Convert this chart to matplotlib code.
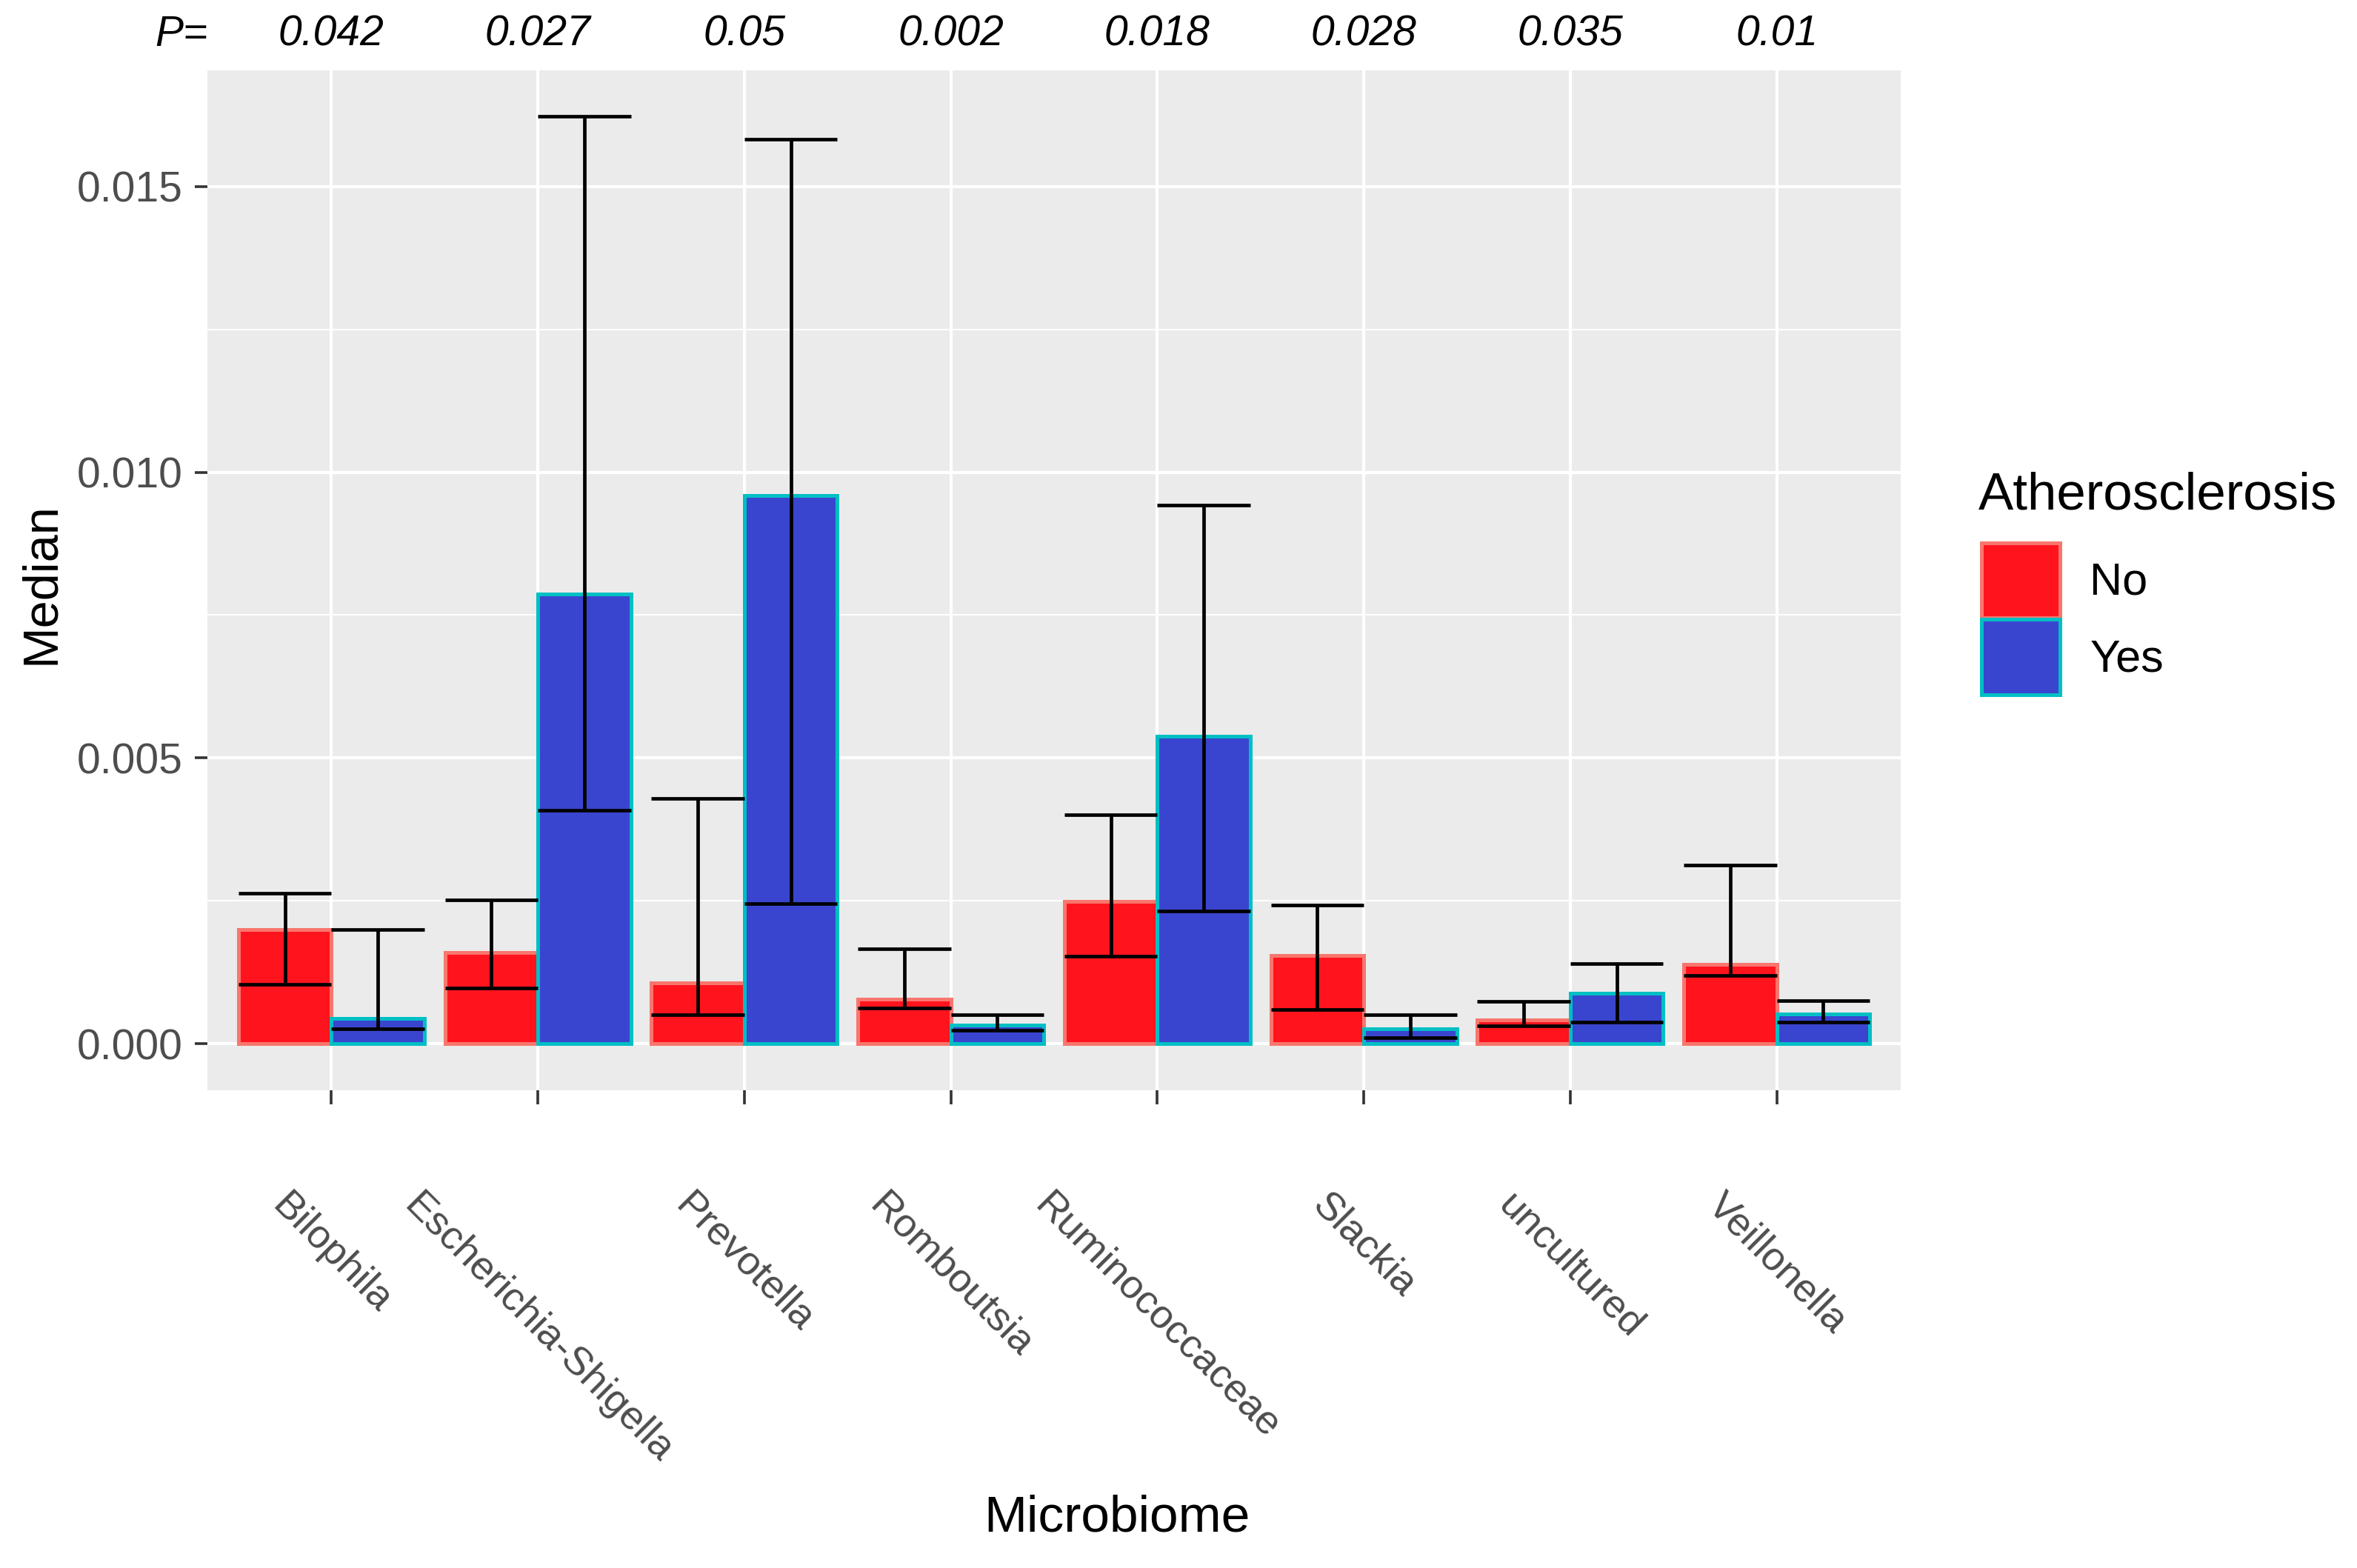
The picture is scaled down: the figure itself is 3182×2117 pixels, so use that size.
import numpy as np
import matplotlib
matplotlib.use("Agg")
import matplotlib.pyplot as plt
import matplotlib.transforms as mtransforms

plt.rcParams["font.family"] = ["Liberation Sans", "DejaVu Sans"]

# ----------------------------------------------------------------------
# Data
# ----------------------------------------------------------------------
taxa = ["Bilophila", "Escherichia-Shigella", "Prevotella", "Romboutsia",
        "Ruminococcaceae", "Slackia", "uncultured", "Veillonella"]
p_values = ["0.042", "0.027", "0.05", "0.002", "0.018", "0.028", "0.035", "0.01"]

median_no = [0.00200, 0.00160, 0.00107, 0.00078, 0.00249, 0.00155, 0.00042, 0.00139]
low_no = [0.00104, 0.00098, 0.00051, 0.00063, 0.00154, 0.00060, 0.00031, 0.00120]
high_no = [0.00263, 0.00252, 0.00429, 0.00166, 0.00401, 0.00243, 0.00074, 0.00313]

median_yes = [0.00045, 0.00787, 0.00959, 0.00033, 0.00538, 0.00027, 0.00088, 0.00053]
low_yes = [0.00027, 0.00408, 0.00246, 0.00024, 0.00233, 0.00011, 0.00038, 0.00038]
high_yes = [0.00200, 0.01622, 0.01582, 0.00051, 0.00943, 0.00051, 0.00141, 0.00076]

groups = ["No", "Yes"]

# ----------------------------------------------------------------------
# Figure
# ----------------------------------------------------------------------
fig = plt.figure(figsize=(15.91, 10.585), dpi=200)
ax = fig.add_axes([0.0880, 0.3047, 0.7184, 0.6505])
ax.set_facecolor("#EBEBEB")

x = np.arange(1, len(taxa) + 1)
w = 0.45
fills = {"No": "#FF141E", "Yes": "#3A45CF"}
edges = {"No": "#F8766D", "Yes": "#00BFC4"}

series = {
    "No": (median_no, low_no, high_no, x - w / 2),
    "Yes": (median_yes, low_yes, high_yes, x + w / 2),
}

handles = []
for g in groups:
    med, lo, hi, pos = series[g]
    b = ax.bar(pos, med, width=w, color=fills[g], edgecolor=edges[g],
               linewidth=1.8, label=g, zorder=3)
    handles.append(b)
    ax.vlines(pos, lo, hi, color="black", linewidth=1.7, zorder=4)
    ax.hlines(lo, pos - w / 2, pos + w / 2, color="black", linewidth=1.7, zorder=4)
    ax.hlines(hi, pos - w / 2, pos + w / 2, color="black", linewidth=1.7, zorder=4)

ax.set_xlim(0.4, 8.6)
ax.set_ylim(-0.00081, 0.01703)

ax.set_yticks([0.0, 0.005, 0.010, 0.015])
ax.set_yticklabels(["0.000", "0.005", "0.010", "0.015"])
ax.set_yticks([0.0025, 0.0075, 0.0125], minor=True)
ax.set_xticks(x)
ax.set_xticklabels(taxa, rotation=-45, ha="center", va="top")

ax.grid(which="major", color="white", linewidth=1.5, zorder=0)
ax.grid(which="minor", axis="y", color="white", linewidth=0.75, zorder=0)
ax.set_axisbelow(True)
for s in ax.spines.values():
    s.set_visible(False)

ax.tick_params(axis="y", which="major", length=6, width=1.3, color="#333333",
               labelsize=20.5, labelcolor="#4D4D4D", pad=6)
ax.tick_params(axis="x", which="major", length=7, width=1.3, color="#333333",
               labelsize=19.5, labelcolor="#4D4D4D", pad=40)
ax.tick_params(which="minor", length=0)

fig.text(0.0175, 0.628, "Median", rotation=90, ha="center", va="center", fontsize=24)
fig.text(0.474, 0.032, "Microbiome", ha="center", va="center", fontsize=25)

# p-values above the panel
trans = mtransforms.blended_transform_factory(ax.transData, fig.transFigure)
for xi, p in zip(x, p_values):
    ax.text(xi, 0.978, p, transform=trans, ha="center", va="center",
            fontsize=20.5, style="italic", clip_on=False)
ax.text(0.0, 0.978, "P=", transform=mtransforms.blended_transform_factory(ax.transAxes, fig.transFigure),
        ha="right", va="center", fontsize=20.5, style="italic", clip_on=False)

# legend
fig.text(0.8393, 0.6836, "Atherosclerosis", ha="left", va="center", fontsize=25.5)
leg = fig.legend(handles=handles, labels=groups, loc="upper left",
                 bbox_to_anchor=(0.8406, 0.6539), frameon=False, fontsize=22,
                 handlelength=1.73, handleheight=2.18, labelspacing=0.03,
                 handletextpad=0.67, borderpad=0, borderaxespad=0)

fig.savefig("out.png", dpi=200)
